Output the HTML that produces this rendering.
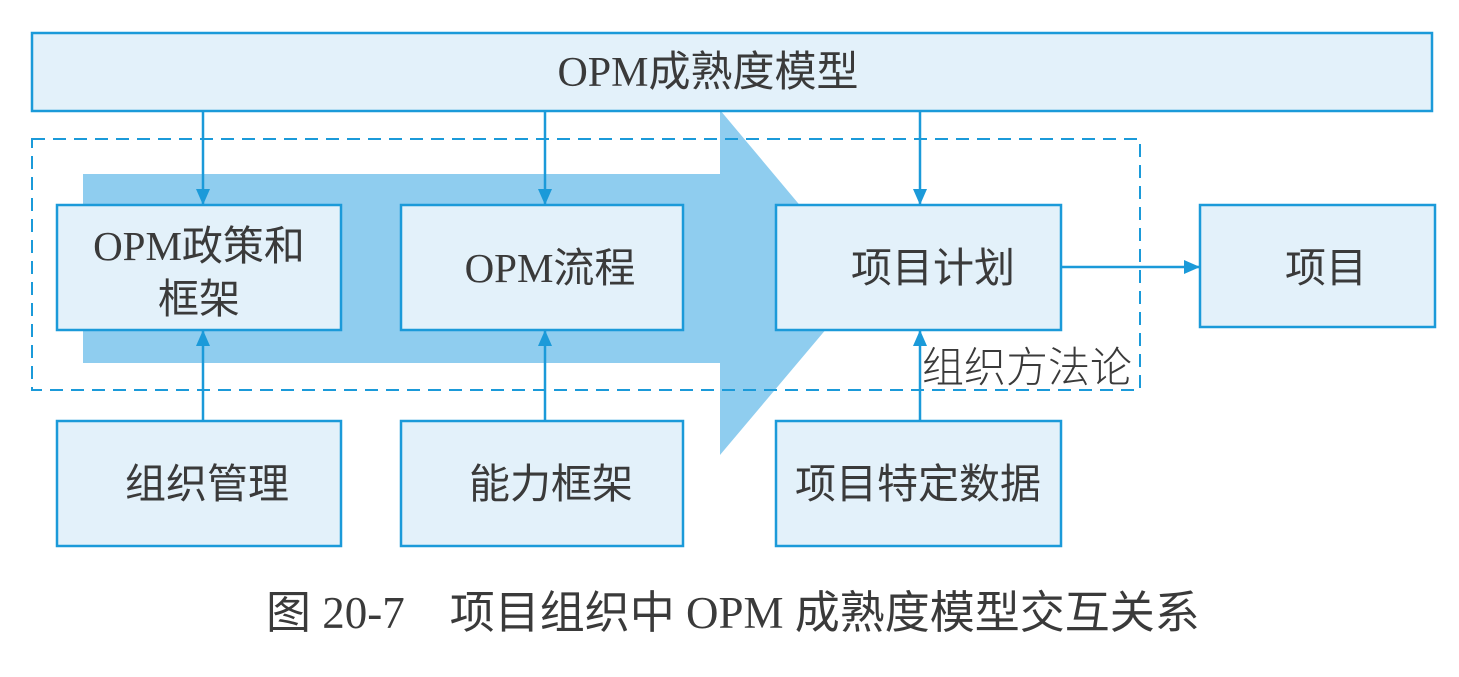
<!DOCTYPE html>
<html><head><meta charset="utf-8"><style>
html,body{margin:0;padding:0;background:#fff;}
svg{display:block;}
text{font-family:"Liberation Serif","Noto Sans CJK SC",sans-serif;fill:#3a3a3a;}
</style></head><body>
<svg width="1459" height="677" viewBox="0 0 1459 677" xmlns="http://www.w3.org/2000/svg">
<defs>
<marker id="ah2" markerWidth="16" markerHeight="16" refX="15" refY="8" orient="auto" markerUnits="userSpaceOnUse" viewBox="0 0 16 16">
<path d="M0,1 L16,8 L0,15 Z" fill="#1b9ad9"/>
</marker>
</defs>
<path d="M83,174 L720,174 L720,110 L865,283 L720,455 L720,363 L83,363 Z" fill="#8fcdef"/>
<rect x="32" y="33" width="1400" height="78" fill="#e3f1fa" stroke="#1b9ad9" stroke-width="2.5"/>
<text x="708" y="86" font-size="42" text-anchor="middle">OPM成熟度模型</text>
<rect x="32" y="139" width="1108" height="251" fill="none" stroke="#1b9ad9" stroke-width="2" stroke-dasharray="13,8"/>
<rect x="57" y="205" width="284" height="125" fill="#e3f1fa" stroke="#1b9ad9" stroke-width="2.5"/>
<text x="199" y="260" font-size="41" text-anchor="middle">OPM政策和</text>
<text x="199" y="313" font-size="41" text-anchor="middle">框架</text>
<rect x="401" y="205" width="282" height="125" fill="#e3f1fa" stroke="#1b9ad9" stroke-width="2.5"/>
<text x="550" y="282" font-size="41" text-anchor="middle">OPM流程</text>
<rect x="776" y="205" width="285" height="125" fill="#e3f1fa" stroke="#1b9ad9" stroke-width="2.5"/>
<text x="933" y="282" font-size="41" text-anchor="middle">项目计划</text>
<rect x="1200" y="205" width="235" height="122" fill="#e3f1fa" stroke="#1b9ad9" stroke-width="2.5"/>
<text x="1326" y="282" font-size="41" text-anchor="middle">项目</text>
<rect x="57" y="421" width="284" height="125" fill="#e3f1fa" stroke="#1b9ad9" stroke-width="2.5"/>
<text x="207" y="498" font-size="41" text-anchor="middle">组织管理</text>
<rect x="401" y="421" width="282" height="125" fill="#e3f1fa" stroke="#1b9ad9" stroke-width="2.5"/>
<text x="551" y="498" font-size="41" text-anchor="middle">能力框架</text>
<rect x="776" y="421" width="285" height="125" fill="#e3f1fa" stroke="#1b9ad9" stroke-width="2.5"/>
<text x="918" y="498" font-size="41" text-anchor="middle">项目特定数据</text>
<g stroke="#1b9ad9" stroke-width="2.5" fill="none">
<line x1="203" y1="111" x2="203" y2="204" marker-end="url(#ah2)"/>
<line x1="545" y1="111" x2="545" y2="204" marker-end="url(#ah2)"/>
<line x1="920" y1="111" x2="920" y2="204" marker-end="url(#ah2)"/>
<line x1="203" y1="421" x2="203" y2="331" marker-end="url(#ah2)"/>
<line x1="545" y1="421" x2="545" y2="331" marker-end="url(#ah2)"/>
<line x1="920" y1="421" x2="920" y2="331" marker-end="url(#ah2)"/>
<line x1="1061" y1="267" x2="1199" y2="267" marker-end="url(#ah2)"/>
</g>
<text x="922" y="382" font-size="42" style="font-weight:300">组织方法论</text>
<text x="266" y="628" font-size="45">图 20-7　项目组织中 OPM 成熟度模型交互关系</text>
</svg>
</body></html>
